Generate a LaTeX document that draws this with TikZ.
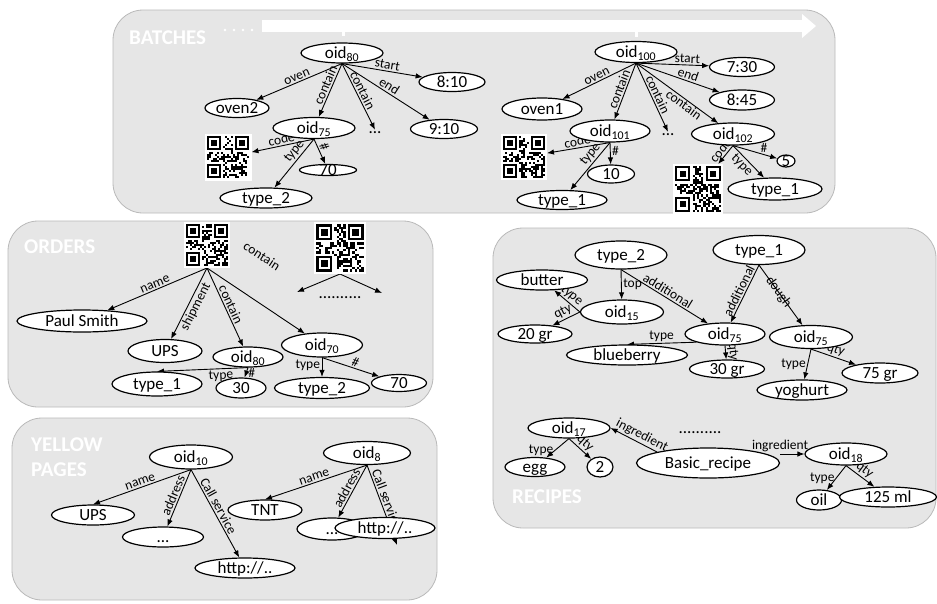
\documentclass[tikz,border=0pt]{standalone}
\usepackage{fontspec}
\setmainfont{Carlito}
\usetikzlibrary{shapes.geometric,arrows.meta}
\pgfdeclarelayer{bg}\pgfdeclarelayer{edges}
\pgfsetlayers{bg,edges,main}
\definecolor{panel}{RGB}{230,230,230}
\definecolor{panelline}{RGB}{185,185,185}
\tikzset{
 el/.style={ellipse, draw, fill=white, line width=1.2pt, inner sep=0pt, text height=0pt, text depth=0pt, font=\fontsize{17}{19}\selectfont},
 lbl/.style={font=\fontsize{13.5}{15}\selectfont, inner sep=1.5pt},
 arr/.style={-{Latex[length=7pt,width=5.5pt]}, line width=0.9pt},
 panelbox/.style={fill=panel, draw=panelline, line width=0.8pt, rounded corners=30pt},
 ptitle/.style={text=white, font=\fontsize{21}{23}\selectfont\bfseries, anchor=west, inner sep=0pt},
 dotnode/.style={font=\fontsize{17}{19}\selectfont, inner sep=2pt},
 qrnode/.style={minimum size=#1, inner sep=0pt, outer sep=0pt},
}
\newcommand\N[5]{\node[el,minimum width=#4pt,minimum height=#5pt] (#1) at (#2) {\raisebox{-0.33em}{#3}};}
\newcommand\qrpat[4]{%
 \pgfmathsetmacro\qrs{#3/23}%
 \pgfmathsetmacro\qx{#1-#3/2}%
 \pgfmathsetmacro\qy{#2-#3/2}%
 \begin{scope}[shift={(\qx,\qy)},scale=\qrs]
  \fill[white] (0,0) rectangle (23,23);
  \pgfmathsetseed{#4}%
  \foreach \i in {1,...,21}{\foreach \j in {1,...,21}{%
    \pgfmathrandominteger{\rr}{0}{1}%
    \ifnum\rr=1 \fill[black] (\i,\j) rectangle ++(1,1);\fi}}
  \foreach \a/\b in {1/1,15/1,1/15}{%
    \fill[white] (\a-1,\b-1) rectangle ++(9,9);
    \fill[black] (\a,\b) rectangle ++(7,7);
    \fill[white] (\a+1,\b+1) rectangle ++(5,5);
    \fill[black] (\a+2,\b+2) rectangle ++(3,3);}
 \end{scope}}
\begin{document}
\begin{tikzpicture}[x=1pt,y=-1pt]
\useasboundingbox (0,0) rectangle (937,603);
\begin{pgfonlayer}{bg}
\draw[panelbox] (113,10) rectangle (835,213);
\draw[panelbox] (8,221) rectangle (433,407);
\draw[panelbox] (12,418) rectangle (437,600);
\draw[panelbox] (493,228) rectangle (936,528);
\fill[white] (262,20) rectangle (802,32);
\fill[white] (802,14) -- (816,26) -- (802,38) -- cycle;
\fill[white] (342,32) rectangle (345,36);
\fill[white] (635,32) rectangle (638,37);
\foreach \x in {225,234,243,252} \fill[white] (\x,30) circle (1.4);
\end{pgfonlayer}
% titles
\node[ptitle] (tB) at (129,38) {BATCHES};
\node[ptitle] (tO) at (24,247) {ORDERS};
\node[ptitle] (tY1) at (31,445) {YELLOW};
\node[ptitle] (tY2) at (31,470) {PAGES};
\node[ptitle] (tR) at (512,497) {RECIPES};
% ---------- BATCHES nodes
\N{oid80}{342,53}{oid\textsubscript{80}}{82}{20}
\N{t810}{452,82}{8:10}{66}{19}
\N{oven2}{237,108}{oven2}{64}{19}
\N{oid75}{314,128}{oid\textsubscript{75}}{82}{21}
\node[dotnode] (dotsA) at (375,133) {...};
\N{t910}{444,129}{9:10}{67}{19}
\node[qrnode=47pt] (qrA) at (228,157) {};
\qrpat{228}{157}{47}{11}
\N{n70A}{328,170}{70}{57}{11}
\N{type2A}{266,198}{type\_2}{92}{20}
\N{oid100}{636,52}{oid\textsubscript{100}}{82}{21}
\N{t730}{742,67}{7:30}{65}{19}
\N{oven1}{542,109}{oven1}{80}{22}
\N{t845}{742,100}{8:45}{65}{20}
\N{oid101}{610,131}{oid\textsubscript{101}}{80}{22}
\node[dotnode] (dotsB) at (668,135) {...};
\N{oid102}{733,134}{oid\textsubscript{102}}{83}{22}
\N{n5}{786,161}{5}{18}{12}
\node[qrnode=46pt] (qrB) at (524,157) {};
\qrpat{524}{157}{46}{23}
\N{n10}{611,174}{10}{47}{18}
\N{type1A}{562,200}{type\_1}{90}{19}
\node[qrnode=50pt] (qrC) at (698,189) {};
\qrpat{698}{189}{50}{37}
\N{type1B}{775,189}{type\_1}{94}{22}
% ---------- ORDERS nodes
\node[qrnode=46pt] (qrO1) at (207,245) {};
\qrpat{207}{245}{46}{41}
\node[qrnode=52pt] (qrO2) at (340,248) {};
\qrpat{340}{248}{52}{53}
\coordinate (dl) at (297,292);
\coordinate (dr) at (382,293);
\node[dotnode] (dotsO) at (340,298) {..........};
\N{paul}{82,321}{Paul Smith}{130}{22}
\N{upsO}{165,351}{UPS}{74}{23}
\N{oidO80}{248,357}{oid\textsubscript{80}}{70}{20}
\N{oidO70}{322,345}{oid\textsubscript{70}}{81}{24}
\N{n30}{241,388}{30}{50}{20}
\N{type1O}{157,384}{type\_1}{90}{24}
\N{type2O}{322,388}{type\_2}{95}{21}
\N{n70O}{399,383}{70}{55}{17}
% ---------- RECIPES nodes
\N{type2R}{621,255}{type\_2}{92}{28}
\N{type1R}{759,250}{type\_1}{92}{29}
\N{butter}{542,280}{butter}{91}{20}
\N{oid15}{622,312}{oid\textsubscript{15}}{83}{24}
\N{gr20}{535,334}{20 gr}{74}{18}
\N{oid75m}{725,334}{oid\textsubscript{75}}{80}{22}
\N{oid75r}{811,337}{oid\textsubscript{75}}{83}{23}
\N{blueberry}{627,355}{blueberry}{121}{20}
\N{gr30}{727,369}{30 gr}{75}{18}
\N{yoghurt}{802,390}{yoghurt}{90}{20}
\N{gr75}{880,373}{75 gr}{76}{20}
\N{oid17}{569,428}{oid\textsubscript{17}}{82}{20}
\N{egg}{535,467}{egg}{60}{19}
\N{two}{600,467}{2}{26}{20}
\N{basic}{708,463}{Basic\_recipe}{143}{30}
\node[dotnode] (dotsR) at (700,433) {..........};
\N{oid18}{846,454}{oid\textsubscript{18}}{82}{22}
\N{oil}{819,500}{oil}{45}{20}
\N{ml125}{888,497}{125 ml}{97}{20}
% ---------- YELLOW PAGES nodes
\N{oid10}{191,457}{oid\textsubscript{10}}{83}{24}
\N{upsY}{93,515}{UPS}{83}{20}
\N{dotsY}{163,537}{...}{81}{20}
\N{httpY}{245,568}{http://..}{100}{20}
\N{oid8}{367,453}{oid\textsubscript{8}}{87}{23}
\N{tnt}{265,510}{TNT}{74}{20}
\N{dotsY2}{332,529}{...}{70}{22}
\N{httpY2}{385,528}{http://..}{100}{21}
\coordinate (cs) at (397,545);
% ---------- edges
\begin{pgfonlayer}{edges}
% batches left
\draw[arr] (oid80.south) -- node[lbl,sloped,above]{oven} (oven2);
\draw[arr] (oid80.south) -- node[lbl,sloped,above,pos=.45]{contain} (oid75);
\draw[arr] (oid80.south) -- node[lbl,sloped,above,pos=.45]{contain} (dotsA.north);
\draw[arr] (oid80.south) -- node[lbl,sloped,above,pos=.5]{end} (t910);
\draw[arr] (oid80.south) -- node[lbl,sloped,above,pos=.55]{start} (t810);
\draw[arr] (oid75.south) -- node[lbl,sloped,above]{code} (qrA);
\draw[arr] (oid75.south) -- node[lbl,sloped,above,pos=.35]{type} (type2A);
\draw[arr] (oid75.south) -- node[lbl,sloped,above,pos=.4]{\#} (n70A);
% batches right
\draw[arr] (oid100.south) -- node[lbl,sloped,above,pos=.7]{start} (t730);
\draw[arr] (oid100.south) -- node[lbl,sloped,above,pos=.6]{end} (t845);
\draw[arr] (oid100.south) -- node[lbl,sloped,above]{oven} (oven1);
\draw[arr] (oid100.south) -- node[lbl,sloped,above,pos=.5]{contain} (oid101);
\draw[arr] (oid100.south) -- node[lbl,sloped,above,pos=.5]{contain} (dotsB.north);
\draw[arr] (oid100.south) -- node[lbl,sloped,below,pos=.62,inner sep=0pt]{contain} (oid102);
\draw[arr] (oid101.south) -- node[lbl,sloped,above]{code} (qrB);
\draw[arr] (oid101.south) -- node[lbl,sloped,above,pos=.35]{type} (type1A);
\draw[arr] (oid101.south) -- node[lbl,right,pos=.4]{\#} (n10);
\draw[arr] (oid102.south) -- node[lbl,sloped,above]{code} (qrC);
\draw[arr] (oid102.south) -- node[lbl,sloped,below,pos=.45]{type} (type1B);
\draw[arr] (oid102.south) -- node[lbl,above,pos=.7]{\#} (n5);
% orders
\draw[arr] (qrO1.south) -- node[lbl,sloped,above,pos=.5]{name} (paul);
\draw[arr] (qrO1.south) -- node[lbl,sloped,below,pos=.5]{shipment} (upsO);
\draw[arr] (qrO1.south) -- node[lbl,sloped,above,pos=.5]{contain} (oidO80);
\draw[arr] (qrO1.south) -- (oidO70);
\node[lbl,rotate=-33] (lblc) at (262,256) {contain};
\draw[arr] (qrO2.south) -- (dl);
\draw[arr] (qrO2.south) -- (dr);
\draw[arr] (oidO70.south) -- node[lbl,left,pos=.4]{type} (type2O);
\draw[arr] (oidO70.south) -- node[lbl,sloped,above,pos=.55]{\#} (n70O);
\draw[arr] (oidO80.south) -- node[lbl,sloped,below,pos=.3]{type} (type1O.north);
\draw[arr] (oidO80.south) -- node[lbl,right]{\#} (n30);
% recipes
\draw[arr] (type2R.south) -- node[lbl,right]{top} (oid15);
\draw[arr] (type2R.south) -- node[lbl,sloped,above,pos=.5]{additional} (oid75m);
\draw[arr] (type1R.south) -- node[lbl,sloped,above,pos=.5]{additional} (oid75m);
\draw[arr] (type1R.south) -- node[lbl,sloped,pos=.45]{dough} (oid75r);
\draw[arr] (oid15.west) -- node[lbl,sloped,above]{type} (butter);
\draw[arr] (oid15.west) -- node[lbl,sloped,above]{qty} (gr20);
\draw[arr] (oid75m.south west) -- node[lbl,above]{type} (blueberry.north);
\draw[arr] (oid75m.south) -- node[lbl,sloped,above]{qty} (gr30);
\draw[arr] (oid75r.south) -- node[lbl,left]{type} (yoghurt);
\draw[arr] (oid75r.south) -- node[lbl,sloped,above]{qty} (gr75);
\draw[arr] (basic.north west) -- node[lbl,sloped,above,pos=.4]{ingredient} (oid17.east);
\draw[arr] (basic.east |- oid18.west) -- node[lbl,above,pos=0]{ingredient} (oid18.west);
\draw[arr] (oid17.south) -- node[lbl,left,pos=.6]{type} (egg);
\draw[arr] (oid17.south) -- node[lbl,sloped,above]{qty} (two);
\draw[arr] (oid18.south) -- node[lbl,left,pos=.5]{type} (oil);
\draw[arr] (oid18.south) -- node[lbl,sloped,above]{qty} (ml125);
% yellow pages
\draw[arr] (oid10.south) -- node[lbl,sloped,above]{name} (upsY.north);
\draw[arr] (oid10.south) -- node[lbl,sloped,above]{address} (dotsY);
\draw[arr] (oid10.south) -- node[lbl,sloped,above,pos=.45]{Call service} (httpY);
\draw[arr] (oid8.south) -- node[lbl,sloped,above]{name} (tnt.north);
\draw[arr] (oid8.south) -- node[lbl,sloped,above]{address} (dotsY2);
\draw[arr] (oid8.south) -- node[lbl,sloped,above,pos=.45]{Call service} (cs);
\end{pgfonlayer}
\end{tikzpicture}
\end{document}
